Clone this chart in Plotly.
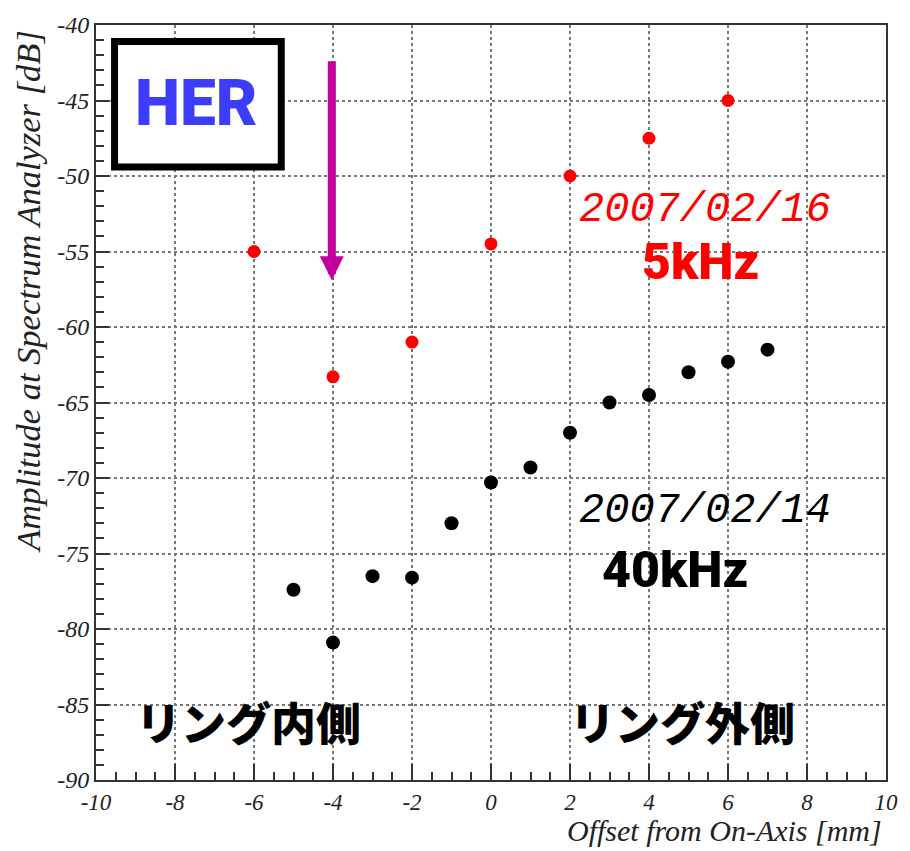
import plotly.graph_objects as go

# ---- data ----
x_40k = [-5, -4, -3, -2, -1, 0, 1, 2, 3, 4, 5, 6, 7]
y_40k = [-77.4, -80.9, -76.5, -76.6, -73.0, -70.3, -69.3, -67.0, -65.0, -64.5, -63.0, -62.3, -61.5]
x_5k = [-6, -4, -2, 0, 2, 4, 6]
y_5k = [-55.0, -63.3, -61.0, -54.5, -50.0, -47.5, -45.0]

x_ticks = [-10, -8, -6, -4, -2, 0, 2, 4, 6, 8, 10]
y_ticks = [-90, -85, -80, -75, -70, -65, -60, -55, -50, -45, -40]

SERIF = "Liberation Serif, Times New Roman, serif"
BOLDSANS = "Roboto, sans-serif"
MONO = "Liberation Mono, Courier New, monospace"
CJK = "Noto Sans CJK JP, sans-serif"

fig = go.Figure()
fig.add_trace(go.Scatter(x=x_5k, y=y_5k, mode="markers",
                         marker=dict(color="#ff0000", size=13), showlegend=False))
fig.add_trace(go.Scatter(x=x_40k, y=y_40k, mode="markers",
                         marker=dict(color="#000000", size=14), showlegend=False))

axis_common = dict(
    showline=True, linecolor="#333", linewidth=2, mirror=True,
    ticks="inside", tickcolor="#333", tickwidth=1.5,
    showgrid=True, gridcolor="#777", griddash="dot", gridwidth=1.5,
    zeroline=False,
)

fig.update_xaxes(range=[-10, 10], tickvals=x_ticks, ticktext=[str(v) for v in x_ticks],
                 ticklen=16,
                 tickfont=dict(family=SERIF, size=23, color="#222", style="italic"),
                 minor=dict(dtick=0.5, ticks="inside", ticklen=8, tickcolor="#333", showgrid=False),
                 **axis_common)
fig.update_yaxes(range=[-90, -40], tickvals=y_ticks, ticktext=[str(v) for v in y_ticks],
                 ticklen=13,
                 tickfont=dict(family=SERIF, size=24, color="#222", style="italic"),
                 minor=dict(dtick=1, ticks="inside", ticklen=8, tickcolor="#333", showgrid=False),
                 **axis_common)

# HER box
fig.add_shape(type="rect", xref="x", yref="y", x0=-9.53, x1=-5.31, y0=-49.4, y1=-41.1,
              line=dict(color="#000", width=7), fillcolor="white", layer="above")

ann = []
ann.append(dict(x=-7.45, y=-45.2, xref="x", yref="y", text="HER", showarrow=False,
                font=dict(family=BOLDSANS, size=64, color="#3c3cff", weight=900)))
# arrow
ann.append(dict(x=-4.03, y=-56.9, ax=-4.03, ay=-42.3, xref="x", yref="y", axref="x", ayref="y",
                text="", showarrow=True, arrowhead=2, arrowsize=0.6, arrowwidth=8,
                arrowcolor="#c4009c"))
ann.append(dict(x=5.42, y=-52.25, xref="x", yref="y", text="2007/02/16", showarrow=False,
                font=dict(family=MONO, size=42, color="#ff0000", style="italic")))
ann.append(dict(x=5.3, y=-55.7, xref="x", yref="y", text="5kHz", showarrow=False,
                font=dict(family=BOLDSANS, size=50, color="#ff0000", weight=900)))
ann.append(dict(x=5.42, y=-72.2, xref="x", yref="y", text="2007/02/14", showarrow=False,
                font=dict(family=MONO, size=42, color="#000", style="italic")))
ann.append(dict(x=4.65, y=-76.1, xref="x", yref="y", text="40kHz", showarrow=False,
                font=dict(family=BOLDSANS, size=50, color="#000", weight=900)))
ann.append(dict(x=-6.15, y=-86.1, xref="x", yref="y", text="リング内側", showarrow=False,
                font=dict(family=CJK, size=45, color="#000", weight=900)))
ann.append(dict(x=4.85, y=-86.1, xref="x", yref="y", text="リング外側", showarrow=False,
                font=dict(family=CJK, size=45, color="#000", weight=900)))
# axis titles
ann.append(dict(x=-0.087, y=0.996, xref="paper", yref="paper", xanchor="center", yanchor="top",
                text="Amplitude at Spectrum Analyzer [dB]", textangle=-90, showarrow=False,
                font=dict(family=SERIF, size=34.5, color="#222", style="italic")))
ann.append(dict(x=0.9975, y=-0.0915, xref="paper", yref="paper", xanchor="right", yanchor="bottom",
                text="Offset from On-Axis [mm]", showarrow=False,
                font=dict(family=SERIF, size=30, color="#222", style="italic")))

fig.update_layout(
    width=910, height=851,
    margin=dict(l=96, r=18, t=17, b=71),
    plot_bgcolor="white", paper_bgcolor="white",
    annotations=ann,
)

fig.write_html("out.html")
